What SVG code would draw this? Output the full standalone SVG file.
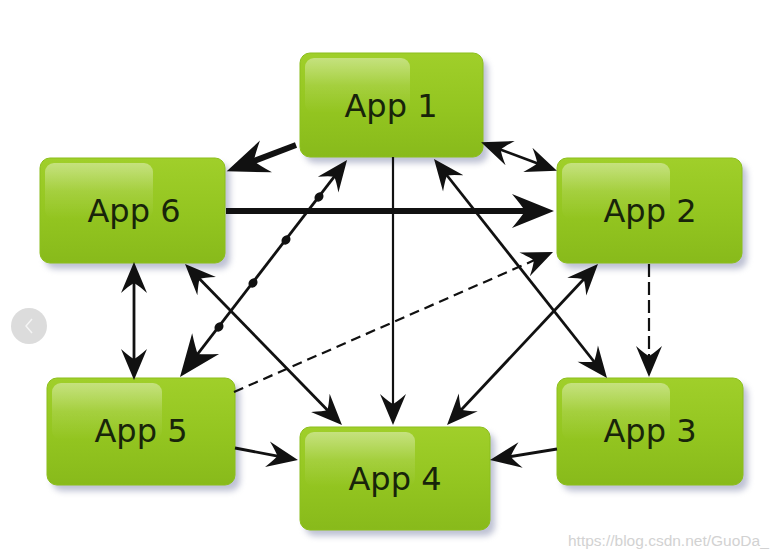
<svg xmlns="http://www.w3.org/2000/svg" width="782" height="556" viewBox="0 0 782 556">
<style>
.box{fill:url(#gBox);stroke:#8cbf1c;stroke-width:1}
.shadow{fill:#7d84a8;opacity:0.5;filter:url(#blur)}
.hl{fill:url(#gHl)}
.lbl{font-family:"DejaVu Sans",Verdana,sans-serif;font-size:32px;fill:#18240a;text-anchor:middle}
.c{fill:none;stroke:#111;stroke-width:2.8}
.thick{stroke-width:6}
.thin{stroke-width:2.2}
.dash{stroke-dasharray:10 6}
.dash2{stroke-dasharray:13 5}
.dot{fill:#111}
.ah{fill:#111}
</style>
<defs>
<linearGradient id="gBox" x1="0" y1="0" x2="0" y2="1">
<stop offset="0" stop-color="#a0cf2a"/>
<stop offset="0.55" stop-color="#93c520"/>
<stop offset="1" stop-color="#88ba1b"/>
</linearGradient>
<linearGradient id="gHl" x1="0" y1="0" x2="0" y2="1">
<stop offset="0" stop-color="#ffffff" stop-opacity="0.4"/>
<stop offset="0.5" stop-color="#ffffff" stop-opacity="0.12"/>
<stop offset="1" stop-color="#ffffff" stop-opacity="0"/>
</linearGradient>
<filter id="blur" x="-20%" y="-20%" width="140%" height="140%"><feGaussianBlur stdDeviation="3"/></filter>
<marker id="ah" markerUnits="userSpaceOnUse" orient="auto-start-reverse" refX="-14" refY="0" markerWidth="40" markerHeight="40" overflow="visible">
<path class="ah" d="M0,0 L-31,-13 Q-23,-4 -21,0 Q-23,4 -31,13 Z"/>
</marker>
<marker id="big" markerUnits="userSpaceOnUse" orient="auto-start-reverse" refX="-20" refY="0" markerWidth="50" markerHeight="50" overflow="visible">
<path class="ah" d="M0,0 L-42,-17 Q-32,-5 -29,0 Q-32,5 -42,17 Z"/>
</marker>
</defs>
<rect width="782" height="556" fill="#ffffff"/>

<g id="app1">
<rect class="shadow" x="305" y="59" width="183" height="104" rx="10"/>
<rect class="box" x="300" y="53" width="183" height="104" rx="10"/>
<rect class="hl" x="305" y="58" width="105" height="55" rx="9"/>
<text class="lbl" x="391" y="117">App 1</text>
</g>
<g id="app6">
<rect class="shadow" x="45" y="164" width="185" height="105" rx="10"/>
<rect class="box" x="40" y="158" width="185" height="105" rx="10"/>
<rect class="hl" x="45" y="163" width="108" height="56" rx="9"/>
<text class="lbl" x="134" y="222">App 6</text>
</g>
<g id="app2">
<rect class="shadow" x="562" y="164" width="185" height="105" rx="10"/>
<rect class="box" x="557" y="158" width="185" height="105" rx="10"/>
<rect class="hl" x="562" y="163" width="108" height="56" rx="9"/>
<text class="lbl" x="650" y="222">App 2</text>
</g>
<g id="app5">
<rect class="shadow" x="52" y="384" width="188" height="107" rx="10"/>
<rect class="box" x="47" y="378" width="188" height="107" rx="10"/>
<rect class="hl" x="52" y="383" width="110" height="57" rx="9"/>
<text class="lbl" x="141" y="442">App 5</text>
</g>
<g id="app4">
<rect class="shadow" x="305" y="433" width="190" height="103" rx="10"/>
<rect class="box" x="300" y="427" width="190" height="103" rx="10"/>
<rect class="hl" x="305" y="432" width="110" height="55" rx="9"/>
<text class="lbl" x="395" y="490">App 4</text>
</g>
<g id="app3">
<rect class="shadow" x="562" y="384" width="186" height="107" rx="10"/>
<rect class="box" x="557" y="378" width="186" height="107" rx="10"/>
<rect class="hl" x="562" y="383" width="108" height="57" rx="9"/>
<text class="lbl" x="650" y="442">App 3</text>
</g>

<g id="connectors">
<path class="c thick" d="M296,145 L245.4,164.2" marker-end="url(#big)"/>
<path class="c thick" d="M226,211 L534,211" marker-end="url(#big)"/>
<path class="c" d="M494.2,147.2 L543.8,165.8" marker-start="url(#ah)" marker-end="url(#ah)"/>
<path class="c thin" d="M393,157 L393,411" marker-end="url(#ah)"/>
<path class="c" d="M442.7,170 L598.3,367" marker-start="url(#ah)" marker-end="url(#ah)"/>
<path class="c" d="M338.5,171.1 L192.2,361.1" marker-start="url(#ah)" marker-end="url(#big)"/>
<ellipse class="dot" cx="319" cy="197" rx="5" ry="4.2" transform="rotate(-52 319 197)"/>
<ellipse class="dot" cx="286" cy="240" rx="5" ry="4.2" transform="rotate(-52 286 240)"/>
<ellipse class="dot" cx="253" cy="283" rx="5" ry="4.2" transform="rotate(-52 253 283)"/>
<ellipse class="dot" cx="219" cy="327" rx="5" ry="4.2" transform="rotate(-52 219 327)"/>
<path class="c" d="M134,276 L134,366" marker-start="url(#ah)" marker-end="url(#ah)"/>
<path class="c" d="M194.8,274 L332.2,415" marker-start="url(#ah)" marker-end="url(#ah)"/>
<path class="c thin dash" d="M234,392 L540.2,257.6" marker-end="url(#ah)"/>
<path class="c" d="M588.4,274.2 L456.6,414.8" marker-start="url(#ah)" marker-end="url(#ah)"/>
<path class="c thin dash2" d="M649,264 L649,363" marker-end="url(#ah)"/>
<path class="c" d="M557,449 L503.8,457.7" marker-end="url(#ah)"/>
<path class="c" d="M235,448 L284.2,457.4" marker-end="url(#ah)"/>
</g>

<g id="page-ui">
<circle cx="29" cy="326" r="18" fill="#dcdcdc"/>
<polyline points="32,319 26,326 32,333" fill="none" stroke="#f5f5f5" stroke-width="1.5"/>
<text x="568" y="546" font-family="Liberation Sans, Arial, sans-serif" font-size="15.5" fill="#d2d2d2">https://blog.csdn.net/GuoDa_</text>
</g>
</svg>
